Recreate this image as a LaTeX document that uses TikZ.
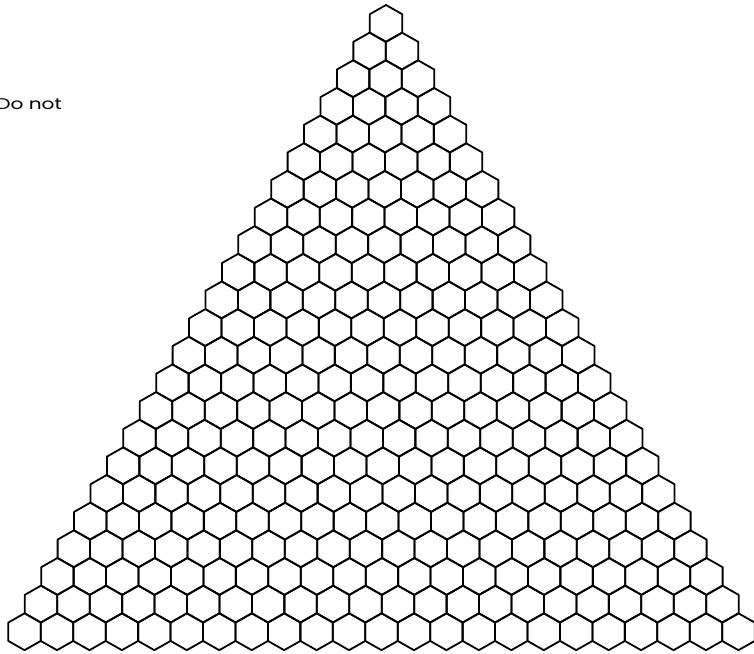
\documentclass[tikz,border=0pt]{standalone}
\usepackage{fontspec}
\setmainfont{Poppins}
\begin{document}
\begin{tikzpicture}[x=1pt,y=-1pt,
  hexline/.style={draw=black,line width=1.8pt,line join=round}]
\useasboundingbox (0,0) rectangle (754,653);
\clip (0,0) rectangle (754,653);
\node[anchor=base west,inner sep=0pt,font=\fontsize{15.5}{15.5}\selectfont,xscale=1.3] (label) at (-4,109) {Do not};
\foreach \r in {0,...,22}{
  \foreach \k in {0,...,\r}{
    \pgfmathsetmacro\cx{386 - 0.2045*\r + (\k - \r/2)*32.45}
    \pgfmathsetmacro\cy{23.43 + 27.65*\r}
    \draw[hexline,shift={(\cx pt,-\cy pt)}]
      (0,-18.43) -- (16.22,-9.215) -- (16.22,9.215) -- (0,18.43)
      -- (-16.22,9.215) -- (-16.22,-9.215) -- cycle;
  }
}
\end{tikzpicture}
\end{document}
